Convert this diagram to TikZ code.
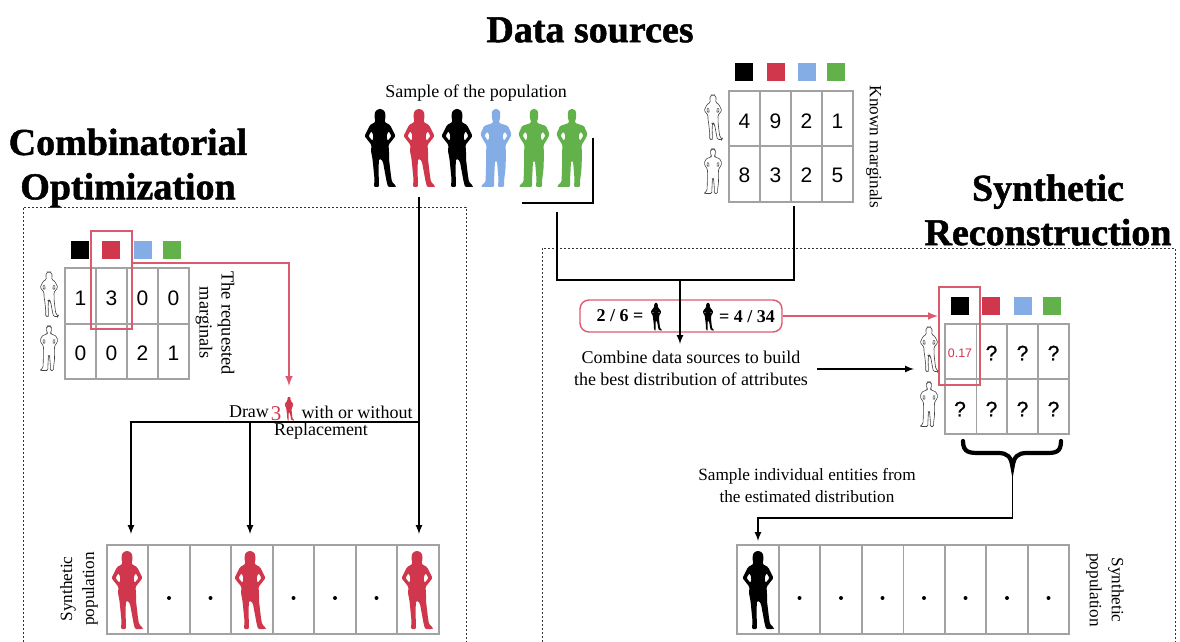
\documentclass[tikz,border=0pt]{standalone}
\usepackage{fontspec}
\setmainfont{Liberation Serif}
\newfontfamily\numfont{Liberation Sans}
\newfontfamily\askfont[FakeBold=0.8]{Liberation Sans}
\newfontfamily\headfont[BoldFeatures={FakeBold=1.3}]{Liberation Serif}
\usetikzlibrary{
    arrows,
    calc,
    positioning
}
\definecolor{popred}{HTML}{D0364C}
\definecolor{popblue}{HTML}{84ADE6}
\definecolor{popgreen}{HTML}{62B14A}
\definecolor{linkred}{HTML}{DB5A70}
\definecolor{gridgrey}{HTML}{A2A2A2}
\tikzset{
    woman/.pic={
        \path[pic actions, even odd rule, rounded corners=0.6pt]
        (-1.5,0) -- (1.5,0) -- (5,2.5) -- (5.5,8) -- (4.5,13) -- (10,16) -- (15.5,27) -- (8.5,36) -- (9,42)
        -- (9,50) -- (11,67) -- (12,73) -- (16,77) -- (15.5,78) -- (8,78) -- (6.5,72) -- (3,53) -- (1,50)
        -- (-1,50) -- (-1.5,60) -- (-1,76) -- (-1,78) -- (-6,78) -- (-5.5,70) -- (-7.5,50) -- (-9,42)
        -- (-8.5,36) -- (-15.5,27) -- (-10,16) -- (-4.5,13) -- (-5.5,8) -- (-5,2.5) -- cycle
        (8.5,22) -- (11.5,27) -- (7.5,32) -- (6.5,27) -- cycle
        (-8.5,22) -- (-11.5,27) -- (-7.5,32) -- (-6.5,27) -- cycle;
    },
    man/.pic={
        \path[pic actions, even odd rule, rounded corners=0.6pt]
        (-1.5,0) -- (1.5,0) -- (4.2,2.5) -- (4.2,9) -- (3,12) -- (3,14) -- (12,17) -- (15.5,25) -- (14,29)
        -- (9.5,36) -- (10,45) -- (9.5,60) -- (8,72) -- (8,78) -- (2,78) -- (2.5,70) -- (1,52) -- (-1,52)
        -- (-2,72) -- (-2,78) -- (-15,78) -- (-14,76) -- (-10.5,73) -- (-10,60) -- (-10,45) -- (-9.5,36)
        -- (-14,29) -- (-15.5,25) -- (-12,17) -- (-3,14) -- (-3,12) -- (-4.2,9) -- (-4.2,2.5) -- cycle
        (8.5,22.5) -- (11.5,26.5) -- (8,32) -- (6.5,27) -- cycle
        (-8.5,22.5) -- (-11.5,26.5) -- (-8,32) -- (-6.5,27) -- cycle;
    },
    outline/.style={scale=0.57, draw=black!75, line width=0.3pt},
    title/.style={font=\headfont\fontsize{19}{21}\selectfont\bfseries, align=center, inner sep=0pt},
    note/.style={font=\fontsize{9}{11}\selectfont, align=center, inner sep=0pt},
    notesmall/.style={note, font=\fontsize{8.6}{11}\selectfont},
    ratio/.style={note, font=\fontsize{9}{11}\selectfont\bfseries},
    numcell/.style={font=\numfont\fontsize{10.5}{12}\selectfont, inner sep=0pt},
    askcell/.style={font=\askfont\fontsize{10.5}{12}\selectfont, inner sep=0pt},
    swatch/.style={minimum size=9pt, inner sep=0pt},
    dot/.style={circle, fill=black, minimum size=2pt, inner sep=0pt},
    gridline/.style={draw=gridgrey, line width=0.55pt},
    link/.style={draw=black, line width=0.55pt},
    redlink/.style={draw=linkred, line width=0.7pt},
    boxline/.style={draw=black!80, line width=0.45pt, dash pattern=on 1pt off 1pt}
}
\begin{document}
\begin{tikzpicture}[x=0.5pt, y=-0.5pt]
\useasboundingbox (0, 0) rectangle (1180, 642);
\node[title] (srctitle) at (590, 30) {Data sources};
\node[title] (combtitle) at (128, 168) {Combinatorial\\[1.2pt]Optimization};
\node[title] (synthtitle) at (1048, 210) {Synthetic\\[1.2pt]Reconstruction};
\draw[boxline] (23, 642) -- (23, 207) -- (466, 207) -- (466, 642);
\draw[boxline] (542, 642) -- (542, 248) -- (1175, 248) -- (1175, 642);

\node[note] (samplelabel) at (476, 93) {Sample of the population};
\pic[fill=black] at (380, 109) {woman};
\pic[fill=popred] at (419, 109) {woman};
\pic[fill=black] at (457, 109) {woman};
\pic[fill=popblue] at (496, 109) {man};
\pic[fill=popgreen] at (534, 109) {man};
\pic[fill=popgreen] at (572, 109) {man};

\node[swatch, fill=black] (ktblack) at (744, 72.5) {};
\node[swatch, fill=popred] (ktred) at (775.5, 72.5) {};
\node[swatch, fill=popblue] (ktblue) at (807, 72.5) {};
\node[swatch, fill=popgreen] (ktgreen) at (836, 72.5) {};
\draw[gridline]
(729, 91) -- (853, 91) -- (853, 202) -- (729, 202) -- cycle
(729, 146) -- (853, 146)
(760, 91) -- (760, 202)
(791, 91) -- (791, 202)
(822, 91) -- (822, 202);
\pic[outline] at (713, 95) {woman};
\pic[outline] at (713, 149) {man};
\node[numcell] (kta) at (744.5, 121) {4};
\node[numcell] (ktb) at (775.5, 121) {9};
\node[numcell] (ktc) at (806.5, 121) {2};
\node[numcell] (ktd) at (837.5, 121) {1};
\node[numcell] (kte) at (744.5, 175) {8};
\node[numcell] (ktf) at (775.5, 175) {3};
\node[numcell] (ktg) at (806.5, 175) {2};
\node[numcell] (kth) at (837.5, 175) {5};
\node[notesmall, rotate=-90] (knownlabel) at (874, 147) {Known marginals};

\coordinate (bracketa) at (593, 138);
\coordinate (bracketb) at (593, 203);
\coordinate (bracketc) at (522, 203);
\draw[link] (bracketa) -- (bracketb) -- (bracketc);
\coordinate (samplefoot) at (557, 212);
\coordinate (samplejoin) at (557, 280);
\coordinate (knownfoot) at (794, 206);
\coordinate (knownjoin) at (794, 280);
\coordinate (midjoin) at (680, 280);
\coordinate (midtip) at (680, 344);
\draw[link] (samplefoot) -- (samplejoin) -- (knownjoin) -- (knownfoot);

\node[draw=linkred, line width=0.7pt, rounded corners=4.5pt, minimum width=101pt, minimum height=16pt, inner sep=0pt] (ratiopill) at (681, 316) {};
\draw[link, -latex] (midjoin) -- (midtip);
\node[ratio] (ratioa) at (620, 316) {2 / 6 =};
\pic[fill=black, scale=0.35] at (656, 303) {woman};
\pic[fill=black, scale=0.35] at (708, 303) {woman};
\node[ratio] (ratiob) at (747, 317) {= 4 / 34};
\node[note] (combine) at (691, 368) {Combine data sources to build\\the best distribution of attributes};

\node[swatch, fill=black] (mtblack) at (959.5, 306) {};
\node[swatch, fill=popred] (mtred) at (991, 306) {};
\node[swatch, fill=popblue] (mtblue) at (1023, 306) {};
\node[swatch, fill=popgreen] (mtgreen) at (1052, 306) {};
\draw[gridline]
(945, 324) -- (1069, 324) -- (1069, 434) -- (945, 434) -- cycle
(945, 379) -- (1069, 379)
(976.5, 324) -- (976.5, 434)
(1007, 324) -- (1007, 434)
(1038, 324) -- (1038, 434);
\pic[outline] at (929, 327) {woman};
\pic[outline] at (929, 382) {man};
\node[numcell, font=\numfont\fontsize{6.2}{8}\selectfont, text=popred] (mta) at (960, 353) {0.17};
\node[askcell] (mtb) at (991.5, 353) {?};
\node[askcell] (mtc) at (1022.5, 353) {?};
\node[askcell] (mtd) at (1053.5, 353) {?};
\node[askcell] (mte) at (960, 409) {?};
\node[askcell] (mtf) at (991.5, 409) {?};
\node[askcell] (mtg) at (1022.5, 409) {?};
\node[askcell] (mth) at (1053.5, 409) {?};
\node[draw=linkred, line width=0.7pt, minimum width=20.5pt, minimum height=49pt, inner sep=0pt] (mtcolumn) at (959.5, 336) {};
\coordinate (ratioout) at (938, 316);
\draw[redlink, -latex] (ratiopill.east) -- (ratioout);
\coordinate (combineout) at (817, 369);
\coordinate (combinetip) at (914, 369);
\draw[link, -latex] (combineout) -- (combinetip);

\draw[line width=2.1pt, line cap=round]
(963, 441) .. controls (963, 453) and (970, 453) .. (980, 453) -- (998, 453)
.. controls (1008, 453) and (1011, 457) .. (1012.5, 467)
.. controls (1014, 457) and (1017, 453) .. (1027, 453) -- (1045, 453)
.. controls (1055, 453) and (1061, 453) .. (1061, 441);
\coordinate (bracetip) at (1012.5, 466);
\coordinate (bracejoin) at (1012.5, 518);
\coordinate (resultjoin) at (758, 518);
\coordinate (resulttip) at (758, 541);
\draw[link, -latex] (bracetip) -- (bracejoin) -- (resultjoin) -- (resulttip);
\node[notesmall] (samplenote) at (807, 486) {Sample individual entities from\\the estimated distribution};

\draw[gridline]
(737, 545) -- (1069, 545) -- (1069, 634) -- (737, 634) -- cycle
(779, 545) -- (779, 634)
(820, 545) -- (820, 634)
(862, 545) -- (862, 634)
(903.5, 545) -- (903.5, 634)
(945, 545) -- (945, 634)
(986, 545) -- (986, 634)
(1028, 545) -- (1028, 634);
\pic[fill=black] at (758, 551) {woman};
\node[dot] (rdota) at (799.5, 598) {};
\node[dot] (rdotb) at (841, 598) {};
\node[dot] (rdotc) at (882.5, 598) {};
\node[dot] (rdotd) at (924, 598) {};
\node[dot] (rdote) at (965.5, 598) {};
\node[dot] (rdotf) at (1007, 598) {};
\node[dot] (rdotg) at (1048.5, 598) {};
\node[notesmall, rotate=-90] (rpoplabel) at (1105, 590) {Synthetic\\population};

\node[swatch, fill=black] (ltblack) at (79.5, 250) {};
\node[swatch, fill=popred] (ltred) at (111, 250) {};
\node[swatch, fill=popblue] (ltblue) at (143, 250) {};
\node[swatch, fill=popgreen] (ltgreen) at (171.5, 250) {};
\draw[gridline]
(65, 268) -- (189, 268) -- (189, 379) -- (65, 379) -- cycle
(65, 324) -- (189, 324)
(96, 268) -- (96, 379)
(127, 268) -- (127, 379)
(158, 268) -- (158, 379);
\pic[outline] at (49, 272) {woman};
\pic[outline] at (49, 326) {man};
\node[numcell] (lta) at (80.5, 298) {1};
\node[numcell] (ltb) at (111.5, 298) {3};
\node[numcell] (ltc) at (142.5, 298) {0};
\node[numcell] (ltd) at (173.5, 298) {0};
\node[numcell] (lte) at (80.5, 353) {0};
\node[numcell] (ltf) at (111.5, 353) {0};
\node[numcell] (ltg) at (142.5, 353) {2};
\node[numcell] (lth) at (173.5, 353) {1};
\node[note, font=\fontsize{9.2}{11}\selectfont, rotate=-90] (reqlabel) at (215, 323) {The requested\\marginals};
\node[draw=linkred, line width=0.7pt, minimum width=20.5pt, minimum height=49pt, inner sep=0pt] (ltcolumn) at (111.5, 280) {};
\coordinate (columnout) at (132, 263);
\coordinate (columnjoin) at (289, 263);
\coordinate (columntip) at (289, 386);
\draw[redlink, -latex] (columnout) -- (columnjoin) -- (columntip);

\node[note] (drawa) at (249, 412) {Draw};
\node[note, text=popred, font=\fontsize{10.5}{12}\selectfont] (drawcount) at (276, 414) {3};
\pic[fill=popred, scale=0.3] at (289, 397) {woman};
\node[note] (drawb) at (357, 412) {with or without};
\node[note] (drawc) at (321, 431) {Replacement};

\coordinate (samplebottom) at (419, 197);
\coordinate (drawjoin) at (419, 422);
\coordinate (samplelast) at (419, 534);
\coordinate (drawleft) at (131, 422);
\coordinate (drawmid) at (250, 422);
\coordinate (firsttip) at (131, 534);
\coordinate (midcelltip) at (250, 534);
\draw[link, -latex] (samplebottom) -- (samplelast);
\draw[link, -latex] (drawjoin) -- (drawleft) -- (firsttip);
\draw[link, -latex] (drawmid) -- (midcelltip);

\draw[gridline]
(107, 545) -- (439, 545) -- (439, 634) -- (107, 634) -- cycle
(148, 545) -- (148, 634)
(190, 545) -- (190, 634)
(231, 545) -- (231, 634)
(273, 545) -- (273, 634)
(314, 545) -- (314, 634)
(356, 545) -- (356, 634)
(397, 545) -- (397, 634);
\pic[fill=popred] at (127, 551) {woman};
\pic[fill=popred] at (250, 551) {woman};
\pic[fill=popred] at (417, 551) {woman};
\node[dot] (ldota) at (169, 598) {};
\node[dot] (ldotb) at (210.5, 598) {};
\node[dot] (ldotc) at (293.5, 598) {};
\node[dot] (ldotd) at (335, 598) {};
\node[dot] (ldote) at (376.5, 598) {};
\node[notesmall, rotate=90] (lpoplabel) at (79, 589) {Synthetic\\population};
\end{tikzpicture}
\end{document}
